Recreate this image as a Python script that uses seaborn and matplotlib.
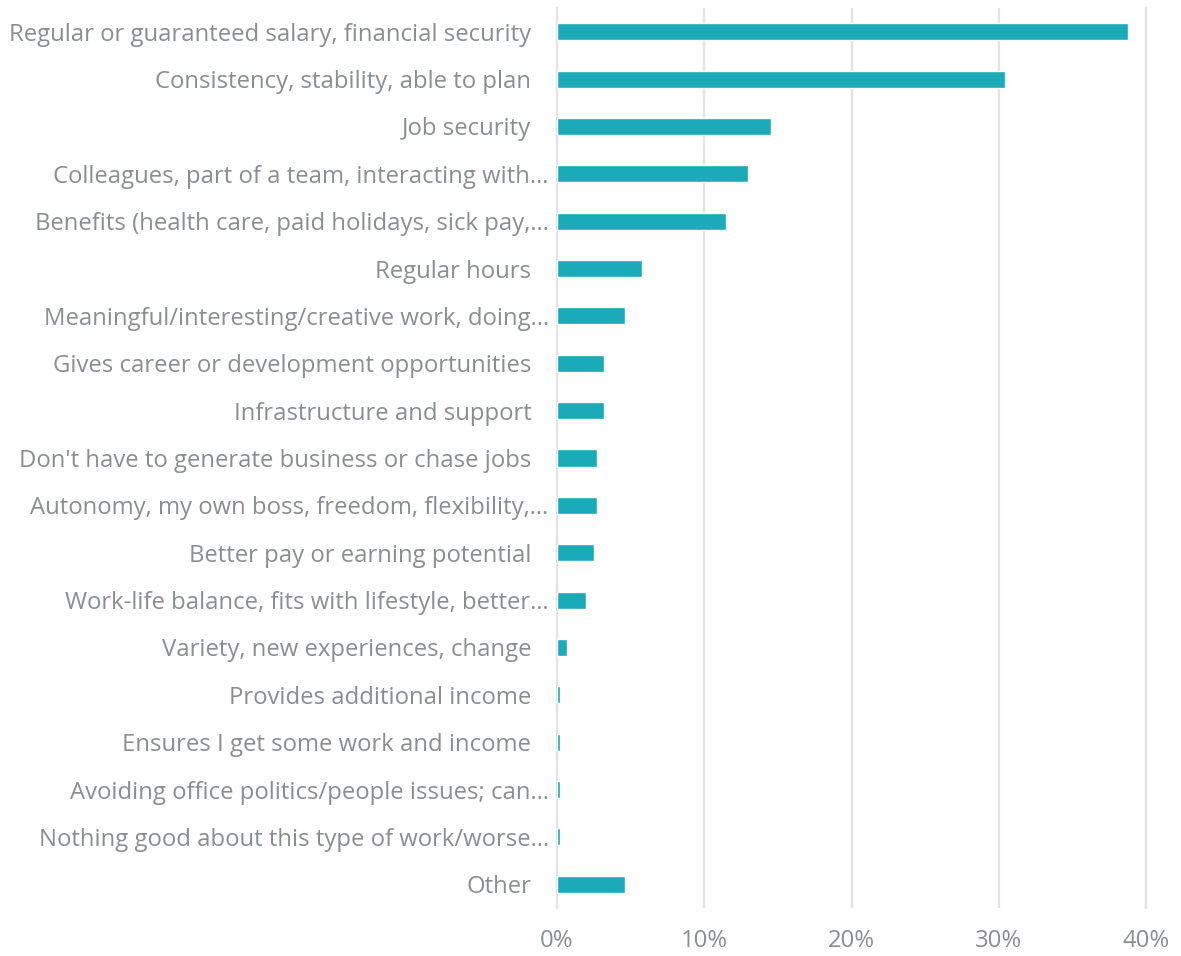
import pandas as pd
import seaborn as sns
import matplotlib.pyplot as plt
import matplotlib.transforms as mtransforms

# Reasons (labels as shown, truncated like the original)
reasons = [
    "Regular or guaranteed salary, financial security",
    "Consistency, stability, able to plan",
    "Job security",
    "Colleagues, part of a team, interacting with…",
    "Benefits (health care, paid holidays, sick pay,…",
    "Regular hours",
    "Meaningful/interesting/creative work, doing…",
    "Gives career or development opportunities",
    "Infrastructure and support",
    "Don't have to generate business or chase jobs",
    "Autonomy, my own boss, freedom, flexibility,…",
    "Better pay or earning potential",
    "Work-life balance, fits with lifestyle, better…",
    "Variety, new experiences, change",
    "Provides additional income",
    "Ensures I get some work and income",
    "Avoiding office politics/people issues; can…",
    "Nothing good about this type of work/worse…",
    "Other",
]
share = [38.8, 30.4, 14.5, 13.0, 11.5, 5.8, 4.6, 3.2, 3.2, 2.7,
         2.7, 2.5, 2.0, 0.7, 0.2, 0.2, 0.2, 0.2, 4.6]
tick_vals = [0, 10, 20, 30, 40]
tick_labels = ["0%", "10%", "20%", "30%", "40%"]

df = pd.DataFrame({"reason": reasons, "share": share})

sns.set_theme(style="white")
plt.rcParams['font.family'] = ['Open Sans', 'DejaVu Sans']

text_grey = "#8a8d91"
teal = "#1aaab8"

fig = plt.figure(figsize=(11.81, 9.56), dpi=100)
ax = fig.add_axes([557 / 1181, 1 - 908 / 956, (1146 - 557) / 1181, 900 / 956])

sns.barplot(data=df, y="reason", x="share", color=teal, width=0.36,
            saturation=1, orient="h", ax=ax, zorder=3)

ax.set_xlim(0, 40)
ax.set_ylim(18.5, -0.5)
ax.set_xticks(tick_vals)
ax.set_xticklabels(tick_labels)
ax.grid(axis="x", color="#e3e3e3", linewidth=1.6, zorder=0)
ax.grid(axis="y", visible=False)
for gx in [0, 40]:
    ax.axvline(gx, color="#e3e3e3", linewidth=1.6, zorder=0, clip_on=False)
for s in ax.spines.values():
    s.set_visible(False)

ax.tick_params(axis="y", length=0, pad=18.5, labelsize=17.2, labelcolor=text_grey)
ax.tick_params(axis="x", length=0, pad=15, labelsize=17.2, labelcolor=text_grey)
ax.set_xlabel("")
ax.set_ylabel("")

# truncated labels sit closer to the axis, as in the original
shift = mtransforms.ScaledTranslation(12.5 / 72, 0, fig.dpi_scale_trans)
for lbl in ax.get_yticklabels():
    if lbl.get_text().endswith("…"):
        lbl.set_transform(lbl.get_transform() + shift)

plt.savefig("out.png", dpi=100)
plt.close()
